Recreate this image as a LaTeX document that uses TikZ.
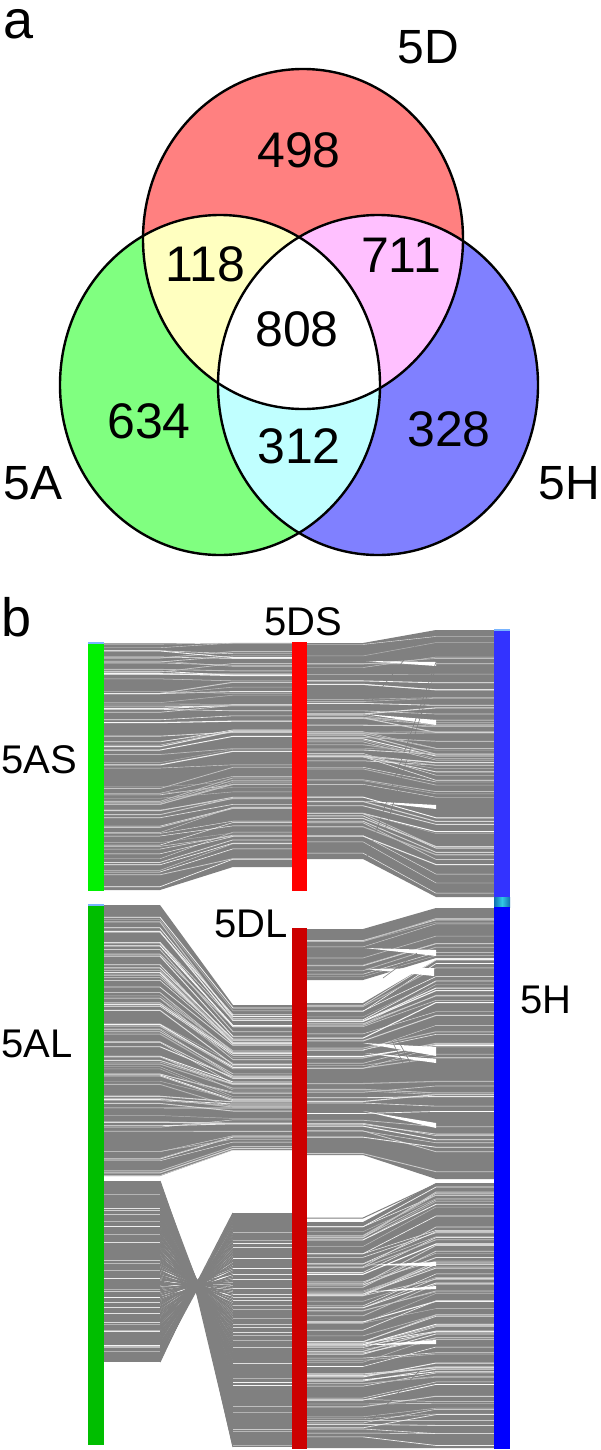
\documentclass[tikz,border=0pt]{standalone}
\usepackage{fontspec}
\setmainfont{Liberation Sans}
\definecolor{lk}{RGB}{128,128,128}
\definecolor{cA}{RGB}{128,255,128}
\definecolor{cD}{RGB}{255,128,128}
\definecolor{cH}{RGB}{128,128,255}
\definecolor{cAD}{RGB}{255,255,192}
\definecolor{cDH}{RGB}{255,192,255}
\definecolor{cAH}{RGB}{192,255,255}
\definecolor{gAS}{RGB}{0,240,0}
\definecolor{gAL}{RGB}{0,190,0}
\definecolor{rDS}{RGB}{255,0,0}
\definecolor{rDL}{RGB}{204,0,0}
\definecolor{bHt}{RGB}{51,51,255}
\definecolor{bHb}{RGB}{0,0,255}
\definecolor{capc}{RGB}{120,180,255}
\definecolor{tealA}{RGB}{16,112,176}
\definecolor{tealB}{RGB}{48,200,230}
\tikzset{
  num/.style={inner sep=0pt, font=\fontsize{25}{30}\selectfont},
  vlab/.style={inner sep=0pt, font=\fontsize{24}{28}\selectfont},
  plab/.style={inner sep=0pt, font=\fontsize{27}{32}\selectfont},
  blab/.style={inner sep=0pt, font=\fontsize{20}{24}\selectfont},
  vring/.style={draw=black, line width=1.2pt},
  hair/.style={lk, line width=0.3pt},
}
% bundle of links: x0 x1 x2 x3, yLtop yLbot, yRtop yRbot, number of hairlines
\newcommand{\linkbundle}[9]{%
  \fill[lk] (#1,#5) -- (#2,#5) -- (#3,#7) -- (#4,#7) -- (#4,#8) -- (#3,#8) -- (#2,#6) -- (#1,#6) -- cycle;
  \foreach \k in {1,...,#9}{%
    \pgfmathsetmacro{\ta}{rnd}%
    \pgfmathsetmacro{\tb}{min(1,max(0,\ta+0.08*(rnd-0.5)))}%
    \pgfmathsetmacro{\ya}{#5+\ta*(#6-#5)}%
    \pgfmathsetmacro{\yb}{#7+\tb*(#8-#7)}%
    \pgfmathsetmacro{\wd}{0.15+0.4*rnd}%
    \pgfmathtruncatemacro{\cc}{40+60*rnd}%
    \draw[line width=\wd pt, color=white!\cc!lk] (#1,\ya) -- (#2,\ya) -- (#3,\yb) -- (#4,\yb);
  }%
}
\begin{document}
\begin{tikzpicture}[x=0.5pt,y=-0.5pt]
\useasboundingbox (0,0) rectangle (600,1450);
\pgfmathsetseed{7}
% ---------------- panel a : Venn ----------------
\coordinate (cenA) at (220,385);
\coordinate (cenD) at (303,239);
\coordinate (cenH) at (378,385);
\fill[cA] (cenA) ellipse [x radius=80pt, y radius=85pt];
\fill[cD] (cenD) ellipse [x radius=80pt, y radius=85pt];
\fill[cH] (cenH) ellipse [x radius=80pt, y radius=85pt];
\begin{scope}
  \clip (cenA) ellipse [x radius=80pt, y radius=85pt];
  \fill[cAD] (cenD) ellipse [x radius=80pt, y radius=85pt];
  \fill[cAH] (cenH) ellipse [x radius=80pt, y radius=85pt];
\end{scope}
\begin{scope}
  \clip (cenD) ellipse [x radius=80pt, y radius=85pt];
  \fill[cDH] (cenH) ellipse [x radius=80pt, y radius=85pt];
\end{scope}
\begin{scope}
  \clip (cenA) ellipse [x radius=80pt, y radius=85pt];
  \clip (cenD) ellipse [x radius=80pt, y radius=85pt];
  \fill[white] (cenH) ellipse [x radius=80pt, y radius=85pt];
\end{scope}
\draw[vring] (cenA) ellipse [x radius=80pt, y radius=85pt];
\draw[vring] (cenD) ellipse [x radius=80pt, y radius=85pt];
\draw[vring] (cenH) ellipse [x radius=80pt, y radius=85pt];
\node[plab] (la) at (19,24) {a};
\node[vlab] (l5D) at (428,47) {5D};
\node[vlab] (l5A) at (33,483) {5A};
\node[vlab] (l5H) at (569,483) {5H};
\node[num] (n498) at (299,150) {498};
\node[num] (n118) at (205,264) {118};
\node[num] (n711) at (401,255) {711};
\node[num] (n808) at (297,329) {808};
\node[num] (n634) at (149,421) {634};
\node[num] (n312) at (299,446) {312};
\node[num] (n328) at (449,429) {328};
% ---------------- panel b : links ----------------
% top: 5AS -> 5DS
\linkbundle{104}{160}{233}{292}{643}{890}{643}{867}{70}
% top: 5DS -> 5H
\linkbundle{307}{363}{436}{494}{643}{859}{630}{897}{60}
\fill[white] (366,661) -- (436,662) -- (436,666) -- cycle;
\fill[white] (364,714) -- (436,720) -- (436,725) -- cycle;
\fill[white] (364,801) -- (436,805) -- (436,809) -- cycle;
\draw[hair] (436,662) -- (367,857);
\draw[hair] (436,667) -- (385,830);
\draw[hair] (420,640) -- (372,700);
% bottom: 5AL -> 5DL group 1
\linkbundle{104}{160}{233}{292}{905}{1176}{1005}{1150}{80}
% bottom: 5AL -> 5DL group 2 (crossing bow-tie)
\fill[lk] (104,1181) rectangle (160,1362);
\fill[lk] (233,1213) rectangle (292,1447);
\foreach \i in {0,...,150}{%
  \pgfmathsetmacro{\yl}{1181+\i/150*181}%
  \pgfmathsetmacro{\yr}{1447-\i/150*234}%
  \pgfmathsetmacro{\cx}{197+4*(rnd-0.5)}%
  \pgfmathsetmacro{\cy}{1285+6*(rnd-0.5)}%
  \draw[lk, line width=0.6pt] (160,\yl) -- (\cx,\cy) -- (233,\yr);
}
\foreach \i in {1,...,30}{%
  \pgfmathsetmacro{\yl}{1182+179*rnd}%
  \pgfmathsetmacro{\yr}{1214+232*rnd}%
  \pgfmathtruncatemacro{\cc}{40+60*rnd}%
  \pgfmathsetmacro{\wd}{0.15+0.4*rnd}%
  \draw[line width=\wd pt, color=white!\cc!lk] (104,\yl) -- (160,\yl);
  \draw[line width=\wd pt, color=white!\cc!lk] (233,\yr) -- (292,\yr);
}
% bottom: 5DL -> 5H
\linkbundle{307}{363}{436}{494}{929}{980}{908}{958}{10}
\linkbundle{307}{363}{436}{494}{1003}{1155}{960}{1179}{40}
\linkbundle{307}{363}{436}{494}{1222}{1448}{1183}{1448}{80}
\draw[lk, line width=0.5pt] (307,1218) -- (363,1218) -- (436,1184) -- (494,1184);
\fill[white] (365,948) -- (436,950) -- (436,956) -- cycle;
\fill[white] (365,969) -- (434,968) -- (434,976) -- cycle;
\fill[white] (363,1043) -- (436,1047) -- (436,1056) -- cycle;
\fill[white] (365,1053) -- (436,1059) -- (436,1063) -- cycle;
\fill[white] (363,1111) -- (436,1123) -- (436,1128) -- cycle;
\fill[white] (366,1265) -- (436,1262) -- (436,1266) -- cycle;
\fill[white] (366,1292) -- (436,1286) -- (436,1289) -- cycle;
\fill[white] (366,1345) -- (436,1340) -- (436,1344) -- cycle;
\draw[hair] (383,978) -- (417,953);
\draw[hair] (390,1037) -- (405,1067);
\draw[hair] (395,1035) -- (420,1080);
\draw[hair] (372,1420) -- (420,1370);
% ---------------- bars ----------------
\fill[gAS] (88,642) rectangle (104,891);
\fill[capc] (88,642) rectangle (104,644);
\fill[gAL] (88,904) rectangle (104,1445);
\fill[capc] (88,904) rectangle (104,906);
\fill[rDS] (292,642) rectangle (307,891);
\fill[rDL] (292,928) rectangle (307,1449);
\fill[bHt] (494,629) rectangle (510,897);
\fill[capc] (494,629) rectangle (510,631);
\shade[left color=tealA, right color=tealA, middle color=tealB] (494,897) rectangle (510,907);
\fill[bHb] (494,907) rectangle (510,1449);
% labels
\node[plab] (lb) at (17,617) {b};
\node[blab] (l5DS) at (303,622) {5DS};
\node[blab] (l5AS) at (39,760) {5AS};
\node[blab] (l5DL) at (251,924) {5DL};
\node[blab] (l5AL) at (37,1044) {5AL};
\node[blab] (l5Hb) at (546,1000) {5H};
\end{tikzpicture}
\end{document}
